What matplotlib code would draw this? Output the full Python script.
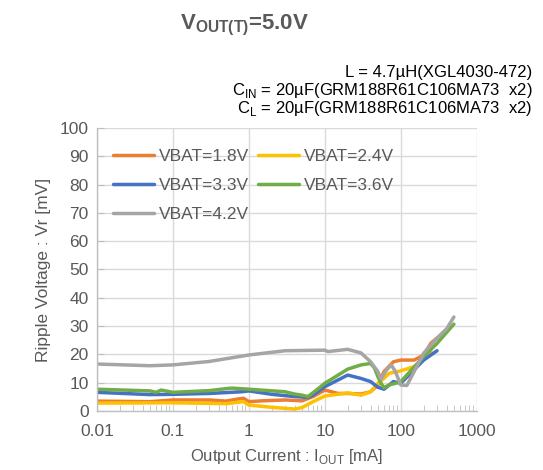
import matplotlib
matplotlib.use("Agg")
import matplotlib.pyplot as plt
from matplotlib.ticker import FixedLocator, NullFormatter

plt.rcParams['font.family'] = ['Liberation Sans', 'DejaVu Sans']

# ---- data ----
i_18 = [0.01, 0.05, 0.1, 0.3, 0.5, 0.7, 0.85, 1.0, 1.5, 3, 5, 7, 10, 15, 20, 30, 40, 50, 60, 80, 100, 150, 200, 250, 300]
v_18 = [3.5, 3.3, 3.9, 3.9, 3.5, 4.2, 4.5, 3.3, 3.6, 3.9, 3.6, 5.1, 7.4, 6.2, 6.2, 6.0, 6.8, 9.2, 13.9, 17.4, 18.0, 18.0, 19.8, 24.0, 25.8]

i_24 = [0.01, 0.1, 0.5, 0.85, 1.0, 2, 4, 5, 7, 10, 20, 30, 40, 50, 60, 70, 100, 150, 200, 250]
v_24 = [2.8, 2.9, 2.6, 3.3, 2.1, 1.3, 0.7, 1.2, 3.3, 5.3, 6.4, 5.6, 6.8, 9.8, 11.5, 13.3, 14.2, 15.7, 18.0, 21.0]

i_33 = [0.01, 0.05, 0.1, 0.3, 0.8, 1.0, 2, 4, 6, 7, 10, 20, 30, 40, 50, 60, 80, 100, 200, 300]
v_33 = [6.6, 5.8, 5.9, 6.2, 6.8, 7.1, 5.9, 5.1, 4.8, 5.6, 8.6, 12.7, 11.5, 10.4, 8.4, 7.7, 10.4, 9.8, 18.0, 21.3]

i_36 = [0.01, 0.05, 0.06, 0.07, 0.1, 0.3, 0.5, 0.6, 1.0, 3, 4, 5, 6, 8, 10, 20, 30, 40, 45, 50, 55, 60, 70, 85, 100, 200, 300, 500]
v_36 = [7.7, 7.1, 6.6, 7.4, 6.6, 7.2, 7.9, 8.1, 7.7, 6.8, 6.0, 5.6, 5.1, 7.7, 9.8, 14.8, 16.3, 16.8, 15.2, 12.1, 9.8, 8.2, 9.2, 9.8, 10.4, 19.2, 23.9, 30.7]

i_42 = [0.01, 0.05, 0.1, 0.3, 1.0, 3, 10, 11, 20, 30, 40, 50, 55, 65, 75, 85, 100, 120, 200, 300, 400, 500]
v_42 = [16.6, 16.0, 16.3, 17.5, 19.8, 21.3, 21.5, 21.0, 21.8, 20.5, 17.4, 13.9, 11.3, 14.5, 16.3, 13.9, 9.2, 9.0, 20.4, 25.8, 29.0, 33.2]

labels = ['VBAT=1.8V', 'VBAT=2.4V', 'VBAT=3.3V', 'VBAT=3.6V', 'VBAT=4.2V']
colors = ['#ED7D31', '#FFC000', '#4472C4', '#70AD47', '#A5A5A5']

x_ticks = [0.01, 0.1, 1, 10, 100, 1000]
x_tick_labels = ['0.01', '0.1', '1', '10', '100', '1000']
y_ticks = list(range(0, 101, 10))

txt = '#595959'
fs = 12.5

fig = plt.figure(figsize=(5.43, 4.70), dpi=100)
ax = fig.add_axes([0.1786, 0.1255, 0.878 - 0.1786, 0.7277 - 0.1255])

series = [(i_18, v_18), (i_24, v_24), (i_33, v_33), (i_36, v_36), (i_42, v_42)]
handles = []
for (xs, ys), lab, c in zip(series, labels, colors):
    h, = ax.plot(xs, ys, color=c, lw=2.5, label=lab, solid_joinstyle='round', solid_capstyle='round')
    handles.append(h)

ax.set_xscale('log')
ax.set_xlim(0.01, 1000)
ax.set_ylim(0, 100)
ax.xaxis.set_major_locator(FixedLocator(x_ticks))
ax.set_xticklabels(x_tick_labels)
minors = [m * 10.0 ** e for e in range(-2, 3) for m in range(2, 10)]
ax.xaxis.set_minor_locator(FixedLocator(minors))
ax.xaxis.set_minor_formatter(NullFormatter())
ax.set_yticks(y_ticks)

ax.grid(True, which='major', color='#D9D9D9', lw=1.0)
ax.set_axisbelow(True)
for s in ['top', 'right']:
    ax.spines[s].set_visible(False)
for s in ['left', 'bottom']:
    ax.spines[s].set_color('#BFBFBF')
    ax.spines[s].set_linewidth(1.0)

ax.tick_params(axis='x', which='both', direction='in', colors='#BFBFBF', labelcolor=txt, labelsize=fs, pad=9)
ax.tick_params(axis='x', which='major', length=0)
ax.tick_params(axis='x', which='minor', length=4)
ax.tick_params(axis='y', direction='in', length=5, colors='#BFBFBF', labelcolor=txt, labelsize=fs, pad=6)

ax.set_xlabel('Output Current : I$_{\\mathregular{OUT}}$ [mA]', color=txt, fontsize=12, labelpad=6)
ax.set_ylabel('Ripple Voltage : Vr [mV]', color=txt, fontsize=12.5, labelpad=6)

# row-wise ordering of the 2-column legend
order = [0, 2, 4, 1, 3]
leg = ax.legend([handles[k] for k in order], [labels[k] for k in order],
                loc='upper left', ncol=2, frameon=False, fontsize=fs, labelcolor=txt,
                handlelength=2.4, handletextpad=0.25, columnspacing=0.5, labelspacing=0.78,
                bbox_to_anchor=(0.0, 0.98))

fig.text(0.45, 0.945, 'V$_{\\mathregular{OUT(T)}}$=5.0V', ha='center', va='center',
         fontsize=16, fontweight='bold', color=txt)
fig.text(0.98, 0.845, 'L = 4.7µH(XGL4030-472)', ha='right', va='center', fontsize=12, color='black')
fig.text(0.98, 0.807, 'C$_{\\mathregular{IN}}$ = 20µF(GRM188R61C106MA73  x2)', ha='right', va='center', fontsize=12, color='black')
fig.text(0.98, 0.769, 'C$_{\\mathregular{L}}$ = 20µF(GRM188R61C106MA73  x2)', ha='right', va='center', fontsize=12, color='black')

fig.savefig('out.png', dpi=100)
